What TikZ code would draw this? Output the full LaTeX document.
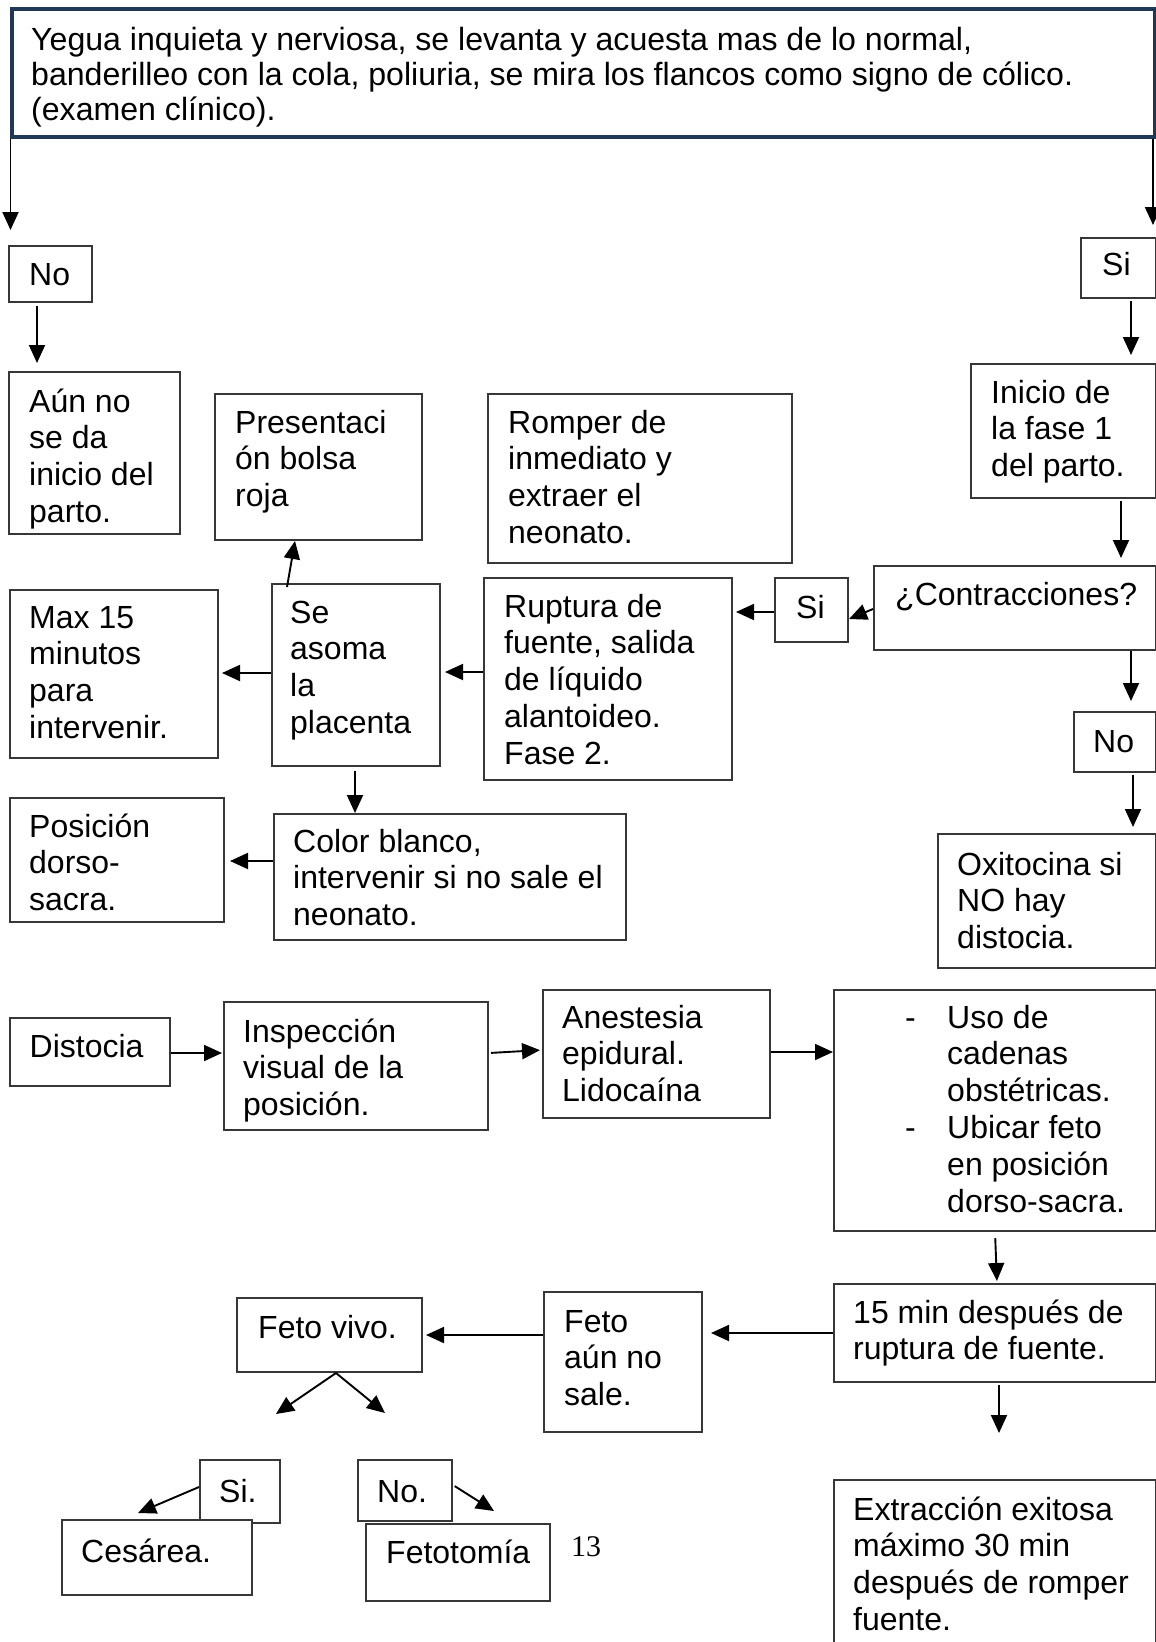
\documentclass[tikz,border=0pt]{standalone}
\usepackage{fontspec}
\setmainfont{Liberation Sans}
\newfontfamily\serifpn{Liberation Serif}
\usetikzlibrary{arrows.meta,calc}
\definecolor{navy}{RGB}{31,56,86}
\definecolor{edge}{RGB}{55,55,55}
\tikzset{
  box/.style={draw=edge, line width=2pt, rectangle, inner sep=0pt, anchor=north west},
  txt/.style={inner sep=0pt, anchor=base west, font=\fontsize{32}{36.8}\selectfont},
  arr/.style={-{Triangle[length=18pt,width=16pt]}, line width=1.9pt},
}
\newcommand\bx[6][]{\node[box,#1, minimum width={#5-#3}, minimum height={#6-#4}] (#2) at (#3,#4) {};}
\newcommand\tx[5][]{\node[txt,#1] (#2) at (#3,#4) {\begin{tabular}[t]{@{}l@{}}#5\end{tabular}};}
\begin{document}
\begin{tikzpicture}[x=1pt,y=-1pt]
\useasboundingbox[fill=white] (0,0) rectangle (1156,1642);
% top
\tx[font=\fontsize{32.1}{35}\selectfont]{top-t}{31}{50}{Yegua inquieta y nerviosa, se levanta y acuesta mas de lo normal,\\banderilleo con la cola, poliuria, se mira los flancos como signo de cólico.\\(examen clínico).}
\bx[draw=navy,line width=4pt]{top}{10}{7}{1153}{135}
% left column
\tx{noL-t}{29}{285}{No}
\bx{noL}{8}{245}{91}{301}
\tx{aun-t}{29}{412}{Aún no\\se da\\inicio del\\parto.}
\bx{aun}{8}{371}{179}{533}
\tx{pres-t}{235}{433}{Presentaci\\ón bolsa\\roja}
\bx{pres}{214}{393}{421}{539}
\tx{romper-t}{508}{433}{Romper de\\inmediato y\\extraer el\\neonato.}
\bx{romper}{487}{393}{791}{562}
% right column
\tx{siR-t}{1102}{275}{Si}
\bx{siR}{1080}{237}{1155}{297}
\tx{inicio-t}{991}{403}{Inicio de\\la fase 1\\del parto.}
\bx{inicio}{970}{363}{1155}{497}
\tx{contr-t}{895}{605}{¿Contracciones?}
\bx{contr}{873}{565}{1155}{649}
\tx{siM-t}{796}{618}{Si}
\bx{siM}{774}{577}{847}{641}
\tx{rupt-t}{504}{617}{Ruptura de\\fuente, salida\\de líquido\\alantoideo.\\Fase 2.}
\bx{rupt}{483}{577}{731}{779}
\tx{noR-t}{1093}{752}{No}
\bx{noR}{1073}{711}{1155}{771}
\tx{oxi-t}{957}{875}{Oxitocina si\\NO hay\\distocia.}
\bx{oxi}{937}{833}{1155}{967}
% middle
\tx{seas-t}{290}{623}{Se\\asoma\\la\\placenta}
\bx{seas}{271}{583}{439}{765}
\tx{max-t}{29}{628}{Max 15\\minutos\\para\\intervenir.}
\bx{max}{9}{589}{217}{757}
\tx{color-t}{293}{852}{Color blanco,\\intervenir si no sale el\\neonato.}
\bx{color}{273}{813}{625}{939}
\tx{pos-t}{29}{837}{Posición\\dorso-\\sacra.}
\bx{pos}{9}{797}{223}{921}
% distocia row
\tx{dist-t}{29.5}{1057}{Distocia}
\bx{dist}{9}{1017}{169}{1085}
\tx{insp-t}{243}{1042}{Inspección\\visual de la\\posición.}
\bx{insp}{223}{1001}{487}{1129}
\tx{anes-t}{562}{1028}{Anestesia\\epidural.\\Lidocaína}
\bx{anes}{542}{989}{769}{1117}
\tx{uso-b1}{905}{1028}{-}
\tx{uso-b2}{905}{1138.4}{-}
\tx{uso-t}{947}{1028}{Uso de\\cadenas\\obstétricas.\\Ubicar feto\\en posición\\dorso-sacra.}
\bx{uso}{833}{989}{1155}{1230}
% bottom
\tx{quince-t}{853}{1323}{15 min después de\\ruptura de fuente.}
\bx{quince}{833}{1283}{1155}{1381}
\tx{extr-t}{853}{1520}{Extracción exitosa\\máximo 30 min\\después de romper\\fuente.}
\bx{extr}{833}{1479}{1155}{1660}
\tx{fetoaun-t}{564}{1332}{Feto\\aún no\\sale.}
\bx{fetoaun}{543}{1291}{701}{1431}
\tx{fetovivo-t}{258}{1338}{Feto vivo.}
\bx{fetovivo}{236}{1297}{421}{1371}
\tx{si2-t}{219}{1502}{Si.}
\bx{si2}{199}{1459}{279}{1522}
\bx[fill=white]{ces}{61}{1519}{251}{1594}
\tx{ces-t}{81}{1562}{Cesárea.}
\tx{no2-t}{377}{1502}{No.}
\bx{no2}{357}{1459}{451}{1520}
\bx[fill=white]{feto}{365}{1523}{549}{1600}
\tx{feto-t}{386}{1563}{Fetotomía}
\node[inner sep=0pt, anchor=base west, font=\serifpn\fontsize{30}{36}\selectfont] (pagenum) at (571,1556) {13};
% connectors
\draw[arr, shorten >=15pt] (top.south -| 10.5,0) -- (noL.north -| 10.5,0);
\draw[arr, shorten >=12pt] (top.south -| 1153,0) -- (siR.north -| 1153,0);
\draw[arr, shorten <=3pt, shorten >=8pt] (noL.south -| 37,0) -- (aun.north -| 37,0);
\draw[arr, shorten <=2pt, shorten >=8pt] (siR.south -| 1131,0) -- (inicio.north -| 1131,0);
\draw[arr, shorten <=2pt, shorten >=7pt] (inicio.south -| 1121,0) -- (contr.north -| 1121,0);
\draw[arr] (contr.west |- 0,609) -- (siM.east |- 0,619);
\draw[arr, shorten >=3pt] (siM.west |- 0,612) -- (rupt.east |- 0,612);
\draw[arr, shorten >=10pt] (contr.south -| 1131,0) -- (noR.north -| 1131,0);
\draw[arr, shorten <=2pt, shorten >=6pt] (noR.south -| 1133,0) -- (oxi.north -| 1133,0);
\draw[arr, shorten >=4pt] (rupt.west |- 0,672) -- (seas.east |- 0,672);
\draw[arr] ($(seas.north -| 287,0)+(0,4)$) -- (pres.south -| 295,0);
\draw[arr, shorten >=3pt] (seas.west |- 0,673) -- (max.east |- 0,673);
\draw[arr, shorten <=4pt] (seas.south -| 355,0) -- (color.north -| 355,0);
\draw[arr, shorten >=5pt] (color.west |- 0,861) -- (pos.east |- 0,861);
\draw[arr, shorten >=1pt] (dist.east |- 0,1053) -- (insp.west |- 0,1053);
\draw[arr, shorten <=2pt, shorten >=2pt] (insp.east |- 0,1053) -- (anes.west |- 0,1050);
\draw[arr] (anes.east |- 0,1052) -- (uso.west |- 0,1052);
\draw[arr, shorten <=6pt, shorten >=2pt] (uso.south -| 995,0) -- (quince.north -| 997,0);
\draw[arr, shorten >=8pt] (quince.west |- 0,1333) -- (fetoaun.east |- 0,1333);
\coordinate (qend) at (999,1433);
\draw[arr, shorten <=2pt] (quince.south -| 999,0) -- (qend);
\draw[arr, shorten >=3pt] (fetoaun.west |- 0,1335) -- (fetovivo.east |- 0,1335);
\coordinate (vl) at (276,1414);
\coordinate (vr) at (385,1413);
\draw[arr] (fetovivo.south -| 336,0) -- (vl);
\draw[arr] (fetovivo.south -| 336,0) -- (vr);
\draw[arr] (si2.west |- 0,1487) -- ($(ces.north -| 138,0)+(0,-6)$);
\draw[arr, shorten <=2pt] (no2.east |- 0,1485) -- ($(feto.north -| 494,0)+(0,-12)$);
\end{tikzpicture}
\end{document}
